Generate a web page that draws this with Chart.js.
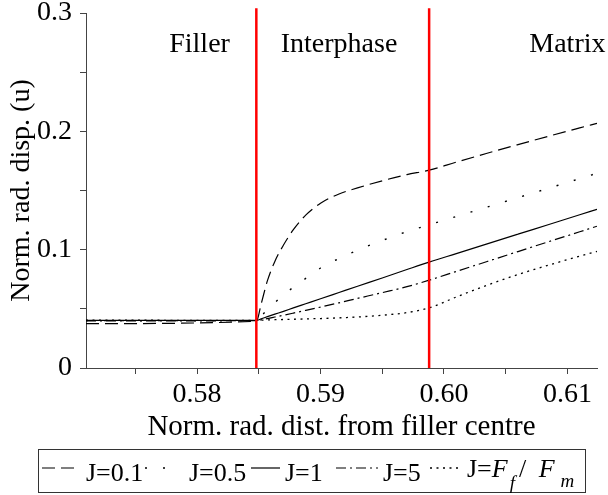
<!DOCTYPE html>
<html lang="en">
<head>
  <meta charset="UTF-8">
  <title>Norm. rad. disp.</title>
  <script src="https://cdn.jsdelivr.net/npm/chart.js"></script>
  <style>
    html, body { margin: 0; padding: 0; background: #fff; }
    #wrap { width: 608px; height: 495px; }
  </style>
</head>
<body>
  <div id="wrap"><canvas id="chart" width="608" height="495"></canvas></div>

  <script>
    // normalised radial distance (shared sample points)
    const xPoints = [0.5710, 0.5848, 0.5852, 0.5857, 0.5863, 0.5870, 0.5878, 0.5888, 0.5900, 0.5915,
                     0.5930, 0.5950, 0.5970, 0.5988, 0.6010, 0.6035, 0.6060, 0.6085, 0.6110, 0.6124];

    // normalised radial displacement per J
    const uJ01 = [0.0375, 0.0395, 0.0545, 0.0738, 0.0901, 0.1039, 0.1169, 0.1292, 0.1392, 0.1471,
                  0.1522, 0.1582, 0.1634, 0.1672, 0.1740, 0.1815, 0.1888, 0.1959, 0.2029, 0.2068];
    const uJ05 = [0.0400, 0.0400, 0.0440, 0.0492, 0.0552, 0.0618, 0.0682, 0.0757, 0.0845, 0.0925,
                  0.0995, 0.1078, 0.1152, 0.1210, 0.1280, 0.1360, 0.1440, 0.1520, 0.1600, 0.1646];
    const uJ1  = [0.0402, 0.0402, 0.0416, 0.0434, 0.0455, 0.0479, 0.0508, 0.0543, 0.0585, 0.0638,
                  0.0691, 0.0761, 0.0832, 0.0895, 0.0967, 0.1049, 0.1131, 0.1213, 0.1295, 0.1341];
    const uJ5  = [0.0398, 0.0400, 0.0408, 0.0418, 0.0431, 0.0446, 0.0464, 0.0487, 0.0515, 0.0551,
                  0.0588, 0.0637, 0.0687, 0.0742, 0.0816, 0.0900, 0.0984, 0.1068, 0.1151, 0.1198];
    const uJFF = [0.0405, 0.0402, 0.0404, 0.0406, 0.0408, 0.0410, 0.0412, 0.0415, 0.0418, 0.0424,
                  0.0431, 0.0446, 0.0468, 0.0508, 0.0600, 0.0700, 0.0790, 0.0870, 0.0945, 0.0985];

    // filler/interphase and interphase/matrix boundaries
    const interfaceX = [0.5848, 0.5988];
    const interfaceY = [0, 0.304];

    const regionLabels = ['Filler', 'Interphase', 'Matrix'];
    const regionLabelX = [0.5802, 0.5915, 0.6100];
    const regionLabelY = 0.267;

    const xTickValues = [0.575, 0.580, 0.585, 0.590, 0.595, 0.600, 0.605, 0.610];
    const xTickLabels = ['', '0.58', '', '0.59', '', '0.60', '', '0.61'];
    const yTickValues = [0, 0.05, 0.1, 0.15, 0.2, 0.25, 0.3];
    const yTickLabels = ['0', '', '0.1', '', '0.2', '', '0.3'];

    const serif = "'Liberation Serif', 'Times New Roman', serif";
    const axisCol = '#444';

    function pts(ys) {
      return xPoints.map((x, i) => ({ x: x, y: ys[i] }));
    }

    function curve(label, ys, dash, width) {
      return {
        label: label,
        data: pts(ys),
        borderColor: '#000',
        borderWidth: width,
        borderDash: dash,
        borderCapStyle: 'butt',
        pointRadius: 0,
        cubicInterpolationMode: 'monotone',
        fill: false,
        order: 1
      };
    }

    const datasets = [
      curve('J=0.1', uJ01, [13, 6], 1.2),
      curve('J=0.5', uJ05, [2, 16], 1.4),
      curve('J=1', uJ1, [], 1.2),
      curve('J=5', uJ5, [10, 4, 2, 4], 1.2),
      curve('J=Ff/Fm', uJFF, [2, 4.5], 1.3)
    ];
    interfaceX.forEach(x => {
      datasets.push({
        label: '',
        data: interfaceY.map(y => ({ x: x, y: y })),
        borderColor: '#ff0000',
        borderWidth: 2.5,
        pointRadius: 0,
        clip: 8,
        order: 0
      });
    });

    // region names inside the plot
    const regionPlugin = {
      id: 'regions',
      afterDatasetsDraw(chart) {
        const { ctx, scales } = chart;
        ctx.save();
        ctx.font = '28px ' + serif;
        ctx.fillStyle = '#000';
        ctx.textAlign = 'center';
        ctx.textBaseline = 'alphabetic';
        regionLabels.forEach((t, i) => {
          ctx.fillText(t, scales.x.getPixelForValue(regionLabelX[i]), scales.y.getPixelForValue(regionLabelY));
        });
        ctx.restore();
      }
    };

    // boxed legend below the axis title, with line samples
    const legendPlugin = {
      id: 'boxLegend',
      afterDraw(chart) {
        const ctx = chart.ctx;
        const layout = [
          { s0: 42, s1: 80, tx: 86 },
          { s0: 145, s1: 170, tx: 189 },
          { s0: 251, s1: 280, tx: 285 },
          { s0: 336, s1: 378, tx: 383 },
          { s0: 430, s1: 462, tx: 467 }
        ];
        ctx.save();
        ctx.strokeStyle = '#333';
        ctx.lineWidth = 1;
        ctx.strokeRect(38.5, 449.5, 547, 43);
        const ly = 468;
        const base = 481;
        ctx.fillStyle = '#000';
        ctx.textBaseline = 'alphabetic';
        ctx.textAlign = 'left';
        layout.forEach((p, i) => {
          const ds = chart.data.datasets[i];
          ctx.beginPath();
          ctx.setLineDash(ds.borderDash);
          ctx.lineWidth = ds.borderWidth;
          ctx.strokeStyle = '#000';
          ctx.moveTo(p.s0, ly);
          ctx.lineTo(p.s1, ly);
          ctx.stroke();
          ctx.setLineDash([]);
          if (i < 4) {
            ctx.font = '26px ' + serif;
            ctx.fillText(ds.label, p.tx, base);
          } else {
            let x = p.tx;
            const b = base - 4;
            ctx.font = '26px ' + serif;
            ctx.fillText('J=', x, b);
            x += ctx.measureText('J=').width;
            ctx.font = 'italic 26px ' + serif;
            ctx.fillText('F', x, b);
            x += ctx.measureText('F').width + 2;
            ctx.font = 'italic 19px ' + serif;
            ctx.fillText('f', x, b + 12);
            x += ctx.measureText('f').width + 4;
            ctx.font = '26px ' + serif;
            ctx.fillText('/', x, b);
            x += ctx.measureText('/ ').width + 6;
            ctx.font = 'italic 26px ' + serif;
            ctx.fillText('F', x, b);
            x += ctx.measureText('F').width + 6;
            ctx.font = 'italic 19px ' + serif;
            ctx.fillText('m', x, b + 10);
          }
        });
        ctx.restore();
      }
    };

    new Chart(document.getElementById('chart'), {
      type: 'line',
      data: { datasets: datasets },
      plugins: [regionPlugin, legendPlugin],
      options: {
        responsive: false,
        animation: false,
        devicePixelRatio: 1,
        layout: { padding: { left: 0, right: 11, top: 13, bottom: 0 } },
        plugins: { legend: { display: false }, tooltip: { enabled: false } },
        scales: {
          x: {
            type: 'linear',
            min: 0.5710,
            max: 0.6124,
            afterBuildTicks: s => { s.ticks = xTickValues.map(v => ({ value: v })); },
            afterFit: s => { s.height = 127; s.paddingLeft = 0; s.paddingRight = 0; },
            ticks: {
              autoSkip: false,
              maxRotation: 0,
              padding: 4,
              color: '#000',
              font: { family: serif, size: 28 },
              callback: (v, i) => xTickLabels[i]
            },
            grid: { drawOnChartArea: false, tickLength: 6, color: axisCol },
            border: { color: axisCol, width: 1 },
            title: {
              display: true,
              text: 'Norm. rad. dist. from filler centre',
              color: '#000',
              font: { family: serif, size: 29 },
              padding: { top: 0, bottom: 50 }
            }
          },
          y: {
            type: 'linear',
            min: 0,
            max: 0.3,
            afterBuildTicks: s => { s.ticks = yTickValues.map(v => ({ value: v })); },
            afterFit: s => { s.width = 86; s.paddingTop = 0; s.paddingBottom = 0; },
            ticks: {
              padding: 8,
              color: '#000',
              font: { family: serif, size: 28 },
              callback: (v, i) => yTickLabels[i]
            },
            grid: { drawOnChartArea: false, tickLength: 6, color: axisCol },
            border: { color: axisCol, width: 1 },
            title: {
              display: true,
              text: 'Norm. rad. disp. (u)',
              color: '#000',
              font: { family: serif, size: 28 },
              padding: { top: 5, bottom: 0 }
            }
          }
        }
      }
    });
  </script>
</body>
</html>
